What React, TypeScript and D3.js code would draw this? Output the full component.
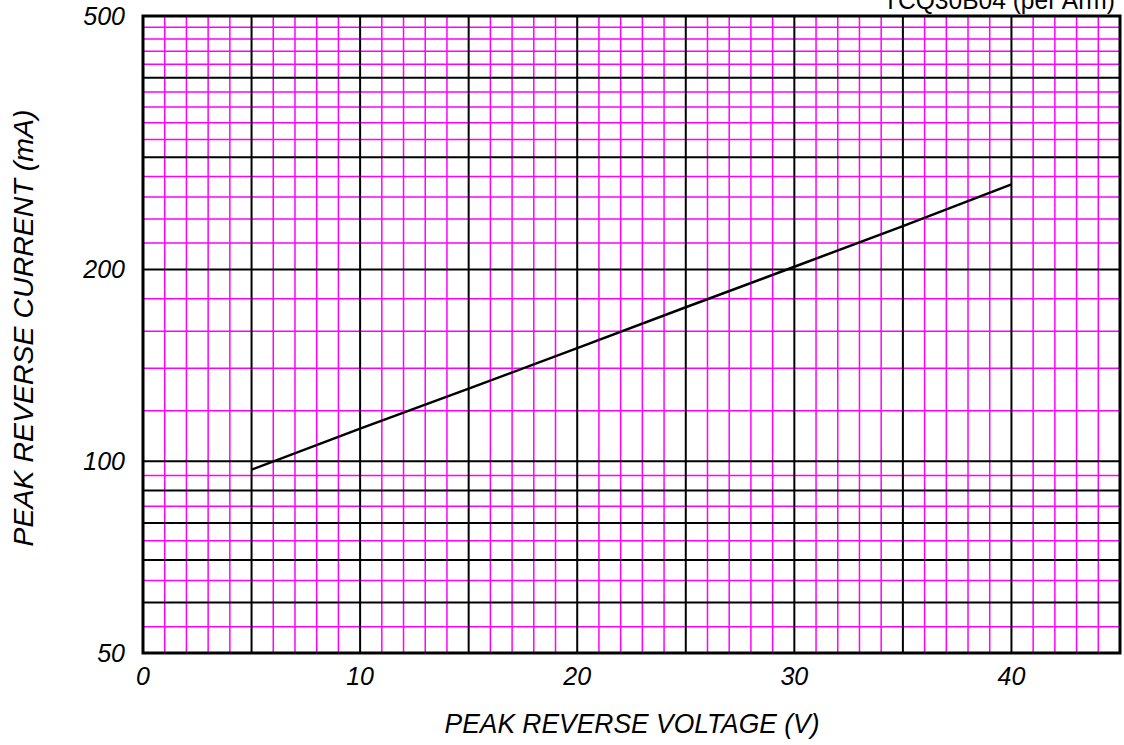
import React, { useEffect, useRef } from 'react';
import * as d3 from 'd3';

const voltage = [5, 10, 15, 20, 25, 30, 35, 40];
const current = [97, 112.5, 130, 150.5, 174.5, 202, 234, 272];

const xLabelTicks = [0, 10, 20, 30, 40];
const yLabelTicks = [50, 100, 200, 500];
const yMajorGrid = [50, 60, 70, 80, 90, 100, 200, 300, 400, 500];
const yMinorGrid = [55, 65, 75, 85, 95, 120, 140, 160, 180, 220, 240, 260, 280, 320, 340, 360, 380, 420, 440, 460, 480];

const title = 'TCQ30B04 (per Arm)';
const xTitle = 'PEAK REVERSE VOLTAGE (V)';
const yTitle = 'PEAK REVERSE CURRENT (mA)';

const W = 1124;
const H = 745;

const App = () => {
  const svgRef = useRef<SVGSVGElement>(null);

  useEffect(() => {
    const margin = { top: 16, right: 4, bottom: 92, left: 143 };
    const width = W - margin.left - margin.right;
    const height = H - margin.top - margin.bottom;

    const svg = d3.select(svgRef.current);
    svg.selectAll('*').remove();

    const x = d3.scaleLinear().domain([0, 45]).range([0, width]);
    const y = d3.scaleLog().domain([50, 500]).range([height, 0]);

    const g = svg.append('g').attr('transform', `translate(${margin.left},${margin.top})`);

    const xMinor = d3.range(0, 46).filter((v) => v % 5 !== 0);
    const xMajor = d3.range(0, 46, 5);

    // magenta minor grid
    g.selectAll('.xmin')
      .data(xMinor)
      .enter()
      .append('line')
      .attr('x1', (d) => x(d))
      .attr('x2', (d) => x(d))
      .attr('y1', 0)
      .attr('y2', height)
      .attr('stroke', '#ff00ff')
      .attr('stroke-width', 1.5);

    g.selectAll('.ymin')
      .data(yMinorGrid)
      .enter()
      .append('line')
      .attr('x1', 0)
      .attr('x2', width)
      .attr('y1', (d) => y(d))
      .attr('y2', (d) => y(d))
      .attr('stroke', '#ff00ff')
      .attr('stroke-width', 1.5);

    // black major grid
    g.selectAll('.xmaj')
      .data(xMajor)
      .enter()
      .append('line')
      .attr('x1', (d) => x(d))
      .attr('x2', (d) => x(d))
      .attr('y1', 0)
      .attr('y2', height)
      .attr('stroke', '#000')
      .attr('stroke-width', 2);

    g.selectAll('.ymaj')
      .data(yMajorGrid)
      .enter()
      .append('line')
      .attr('x1', 0)
      .attr('x2', width)
      .attr('y1', (d) => y(d))
      .attr('y2', (d) => y(d))
      .attr('stroke', '#000')
      .attr('stroke-width', 2);

    g.append('rect')
      .attr('width', width)
      .attr('height', height)
      .attr('fill', 'none')
      .attr('stroke', '#000')
      .attr('stroke-width', 3);

    // data line
    const line = d3
      .line<number>()
      .x((d, i) => x(voltage[i]))
      .y((d) => y(d));

    g.append('path')
      .datum(current)
      .attr('d', line)
      .attr('fill', 'none')
      .attr('stroke', '#000')
      .attr('stroke-width', 2.5);

    const font = 'Arial, "Liberation Sans", sans-serif';

    // tick labels
    g.selectAll('.xl')
      .data(xLabelTicks)
      .enter()
      .append('text')
      .attr('x', (d) => x(d))
      .attr('y', height + 32)
      .attr('text-anchor', 'middle')
      .attr('font-family', font)
      .attr('font-style', 'italic')
      .attr('font-size', 25)
      .text((d) => d);

    g.selectAll('.yl')
      .data(yLabelTicks)
      .enter()
      .append('text')
      .attr('x', -18)
      .attr('y', (d) => y(d) + 9)
      .attr('text-anchor', 'end')
      .attr('font-family', font)
      .attr('font-style', 'italic')
      .attr('font-size', 25)
      .text((d) => d);

    // titles
    svg.append('text')
      .attr('x', 1115)
      .attr('y', 9)
      .attr('text-anchor', 'end')
      .attr('font-family', font)
      .attr('font-size', 25)
      .attr('textLength', 232)
      .attr('lengthAdjust', 'spacingAndGlyphs')
      .text(title);

    svg.append('text')
      .attr('x', 632)
      .attr('y', 733)
      .attr('text-anchor', 'middle')
      .attr('font-family', font)
      .attr('font-style', 'italic')
      .attr('font-size', 28)
      .attr('textLength', 375)
      .attr('lengthAdjust', 'spacingAndGlyphs')
      .text(xTitle);

    svg.append('text')
      .attr('transform', 'translate(33,328) rotate(-90)')
      .attr('text-anchor', 'middle')
      .attr('font-family', font)
      .attr('font-style', 'italic')
      .attr('font-size', 28)
      .attr('textLength', 437)
      .attr('lengthAdjust', 'spacingAndGlyphs')
      .text(yTitle);
  }, []);

  return (
    <svg
      ref={svgRef}
      width={W}
      height={H}
      style={{ position: 'absolute', left: 0, top: 0, background: '#fff' }}
    ></svg>
  );
};

export default App;
